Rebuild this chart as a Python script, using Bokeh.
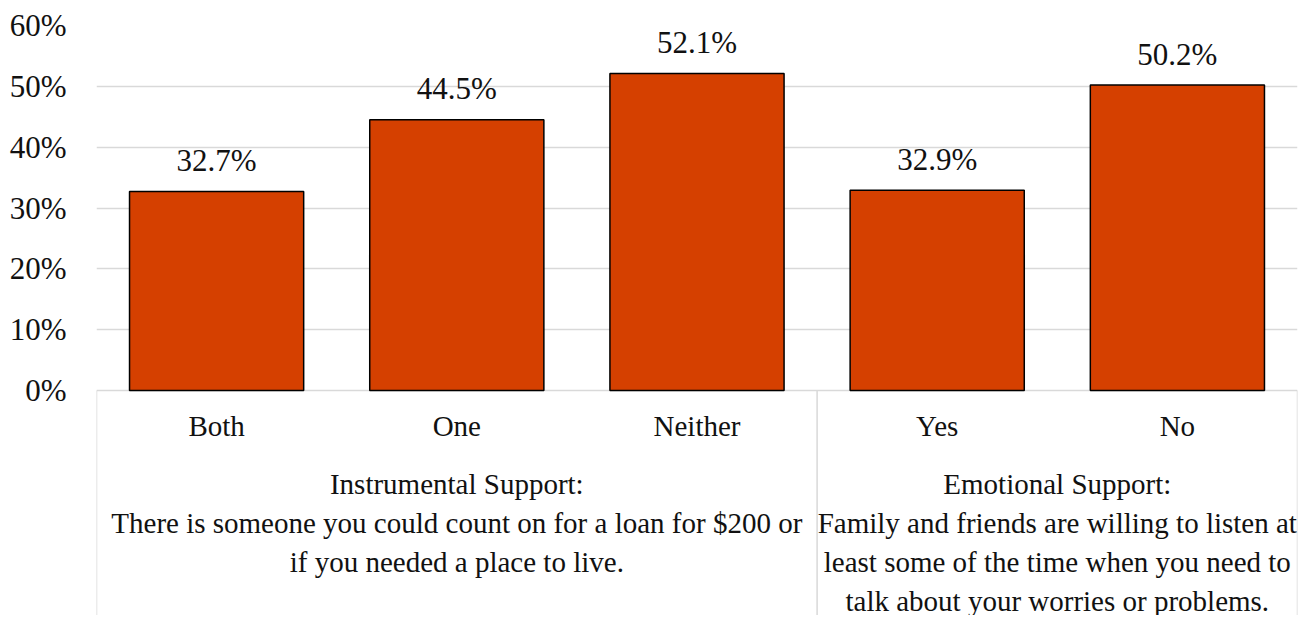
from bokeh.plotting import figure
from bokeh.models import Range1d, FixedTicker, ColumnDataSource
from bokeh.core.properties import value
from bokeh.embed import file_html
from bokeh.resources import INLINE

# ---- data ----
categories = ["Both", "One", "Neither", "Yes", "No"]
values = [32.7, 44.5, 52.1, 32.9, 50.2]
y_ticks = [0, 10, 20, 30, 40, 50, 60]
y_tick_labels = ["0%", "10%", "20%", "30%", "40%", "50%", "60%"]
group_sizes = [3, 2]
group_lines = [
    ["Instrumental Support:",
     "There is someone you could count on for a loan for $200 or",
     "if you needed a place to live."],
    ["Emotional Support:",
     "Family and friends are willing to listen at",
     "least some of the time when you need to",
     "talk about your worries or problems."],
]

# ---- layout ----
FONT = "Liberation Serif"
TXT = "#111111"
GRID = "#d9d9d9"
BAR = "#d54000"
frame_w, frame_h = 1201, 590
top_px = 365                      # pixels from 0% to 60%
ppu = top_px / y_ticks[-1]        # pixels per percentage point
y_lo = -(frame_h - top_px) / ppu

n = len(categories)
xs = [i + 0.5 for i in range(n)]

p = figure(output_backend="svg", toolbar_location=None,
           frame_width=frame_w, frame_height=frame_h,
           min_border_left=96, min_border_right=1, min_border_top=25, min_border_bottom=0,
           x_range=Range1d(0, n), y_range=Range1d(y_lo, y_ticks[-1]),
           x_axis_location=None)
p.outline_line_color = None
p.background_fill_color = "white"
p.border_fill_color = "white"

# y axis
ax = p.yaxis[0]
ax.ticker = FixedTicker(ticks=y_ticks)
ax.major_label_overrides = {t: l for t, l in zip(y_ticks, y_tick_labels)}
ax.bounds = (y_ticks[0], y_ticks[-1])
ax.axis_line_color = None
ax.major_tick_line_color = None
ax.minor_tick_line_color = None
ax.major_label_standoff = 24
ax.major_label_text_font = FONT
ax.major_label_text_font_size = "31px"
ax.major_label_text_color = TXT

p.xgrid.visible = False
p.ygrid.ticker = FixedTicker(ticks=y_ticks)
p.ygrid.grid_line_color = GRID
p.ygrid.grid_line_width = 1.5

# bars
src = ColumnDataSource(dict(x=xs, top=values, cat=categories))
p.vbar(x="x", top="top", bottom=0, width=0.725, source=src,
       fill_color=BAR, line_color="black", line_width=1.5)

# value labels
lab_src = ColumnDataSource(dict(x=xs, y=[v + 31 / ppu for v in values],
                                lab=[f"{v:.1f}%" for v in values]))
p.text(x="x", y="y", text="lab", source=lab_src, text_align="center",
       text_baseline="middle", text_font=value(FONT), text_font_size="31px",
       text_color=TXT)

# category labels
cat_src = ColumnDataSource(dict(x=xs, y=[-35 / ppu] * n, cat=categories))
p.text(x="x", y="y", text="cat", source=cat_src, text_align="center",
       text_baseline="middle", text_font=value(FONT), text_font_size="29px",
       text_color=TXT)

# group separators and group labels
bounds = [0]
for s in group_sizes:
    bounds.append(bounds[-1] + s)
p.segment(x0=bounds, y0=[0] * len(bounds), x1=bounds, y1=[y_lo] * len(bounds),
          line_color=GRID, line_width=1.5)

gx, gy, gt = [], [], []
for gi, lines in enumerate(group_lines):
    cx = (bounds[gi] + bounds[gi + 1]) / 2
    for li, line in enumerate(lines):
        gx.append(cx)
        gy.append(-(93 + 39 * li) / ppu)
        gt.append(line)
g_src = ColumnDataSource(dict(x=gx, y=gy, t=gt))
p.text(x="x", y="y", text="t", source=g_src, text_align="center",
       text_baseline="middle", text_font=value(FONT), text_font_size="29px",
       text_color=TXT)

open("out.html", "w").write(file_html(p, INLINE))
